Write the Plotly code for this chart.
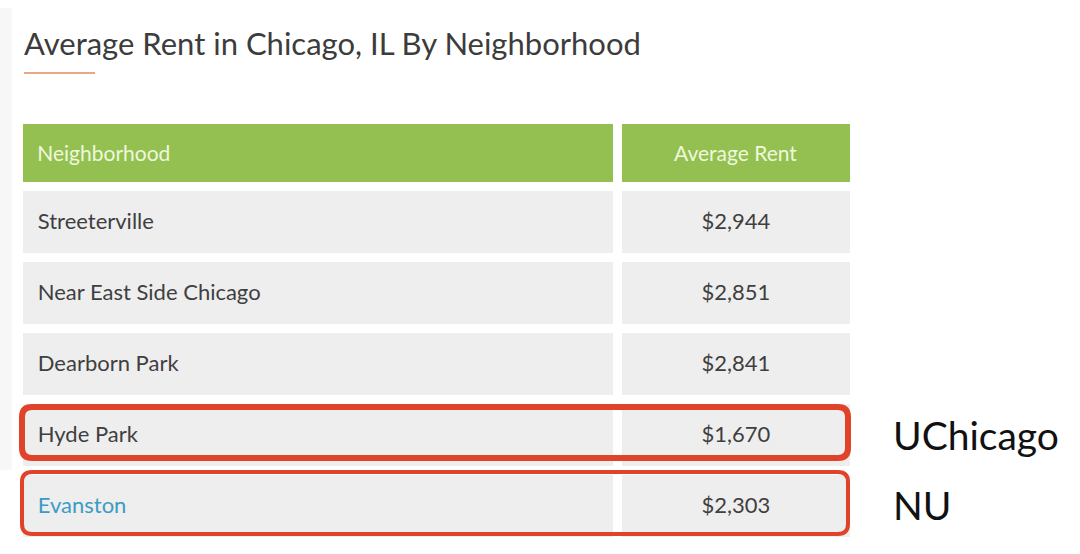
import plotly.graph_objects as go

# table data
neighborhoods = ["Streeterville", "Near East Side Chicago", "Dearborn Park", "Hyde Park", "Evanston"]
rents = [2944, 2851, 2841, 1670, 2303]
headers = ["Neighborhood", "Average Rent"]
title = "Average Rent in Chicago, IL By Neighborhood"

# highlighted rows and their school labels
highlights = {"Hyde Park": "UChicago", "Evanston": "NU"}

W, H = 1080, 554


def px(x):
    return x / W


def py(y):
    return (H - y) / H


def rounded_box(x0, y0, x1, y1, r):
    # svg path in paper coords for a rounded rectangle given pixel box
    return (f"M {px(x0 + r)},{py(y0)} L {px(x1 - r)},{py(y0)} "
            f"Q {px(x1)},{py(y0)} {px(x1)},{py(y0 + r)} "
            f"L {px(x1)},{py(y1 - r)} Q {px(x1)},{py(y1)} {px(x1 - r)},{py(y1)} "
            f"L {px(x0 + r)},{py(y1)} Q {px(x0)},{py(y1)} {px(x0)},{py(y1 - r)} "
            f"L {px(x0)},{py(y0 + r)} Q {px(x0)},{py(y0)} {px(x0 + r)},{py(y0)} Z")


pad = "&nbsp;&nbsp;"
name_text = [f"{pad}{n}" for n in neighborhoods]
rent_text = [f"&nbsp;${v:,}&nbsp;" for v in rents]
name_colors = ['#3a9cc4' if n == "Evanston" else '#3f3f3f' for n in neighborhoods]

gap = 9
top = 124 - gap / 2
# plotly puts table text at the top of a cell, so the text sits in a second
# transparent table nudged down to land in the middle of each cell
text_shift = 12
colw = [589 + gap, 228 + gap]
x_dom = [px(23 - gap / 2), px(850 + gap / 2)]
blank = [""] * len(neighborhoods)

fig = go.Figure()

# cell backgrounds
fig.add_trace(go.Table(
    domain=dict(x=x_dom, y=[0, py(top)]),
    columnwidth=colw,
    header=dict(values=["", ""], fill_color='#94c051',
                line=dict(color='white', width=gap), height=58 + gap),
    cells=dict(values=[blank, blank], fill_color='#eeeeee',
               line=dict(color='white', width=gap), height=62 + gap),
))

# cell text
fig.add_trace(go.Table(
    domain=dict(x=x_dom, y=[0, py(top + text_shift)]),
    columnwidth=colw,
    header=dict(
        values=[f"{pad}{headers[0]}", f"&nbsp;{headers[1]}&nbsp;"],
        fill_color='rgba(0,0,0,0)',
        line=dict(color='rgba(0,0,0,0)', width=gap),
        align=['left', 'center'],
        font=dict(family='Lato', size=21, color='#eef8dc'),
        height=58 + gap,
    ),
    cells=dict(
        values=[name_text, rent_text],
        fill_color='rgba(0,0,0,0)',
        line=dict(color='rgba(0,0,0,0)', width=gap),
        align=['left', 'center'],
        font=dict(family='Lato', size=22, color=[name_colors, ['#3f3f3f'] * len(rents)]),
        height=62 + gap,
    ),
))

shapes = [
    # faint card shadow on the left
    dict(type='rect', xref='paper', yref='paper', x0=0, x1=px(12), y0=py(470), y1=py(8),
         fillcolor='#f7f7f7', line_width=0, layer='below'),
    # orange underline below the title
    dict(type='line', xref='paper', yref='paper', x0=px(24), x1=px(95), y0=py(73), y1=py(73),
         line=dict(color='#eba783', width=2)),
]

annotations = [
    dict(text=title, x=px(22), y=py(43), xref='paper', yref='paper', xanchor='left', yanchor='middle',
         showarrow=False, font=dict(family='Lato', size=31, color='#3c3c3c')),
]

# red boxes around the two highlighted rows, school labels to the right
boxes = {"Hyde Park": (407, 458, 6), "Evanston": (472, 534, 4)}
for name, label in highlights.items():
    y0, y1, lw = boxes[name]
    shapes.append(dict(type='path', xref='paper', yref='paper',
                       path=rounded_box(22, y0, 848, y1, 10),
                       line=dict(color='#e0432a', width=lw)))
    annotations.append(dict(text=label, x=px(891), y=py((y0 + y1) / 2 + 2), xref='paper', yref='paper',
                            xanchor='left', yanchor='middle', showarrow=False,
                            font=dict(family='Lato', size=39, color='#111111')))

fig.update_layout(
    width=W, height=H,
    margin=dict(l=0, r=0, t=0, b=0),
    paper_bgcolor='white',
    shapes=shapes,
    annotations=annotations,
)

fig.write_html("out.html", config={'displayModeBar': False},
               post_script="document.body.style.margin='0';")
